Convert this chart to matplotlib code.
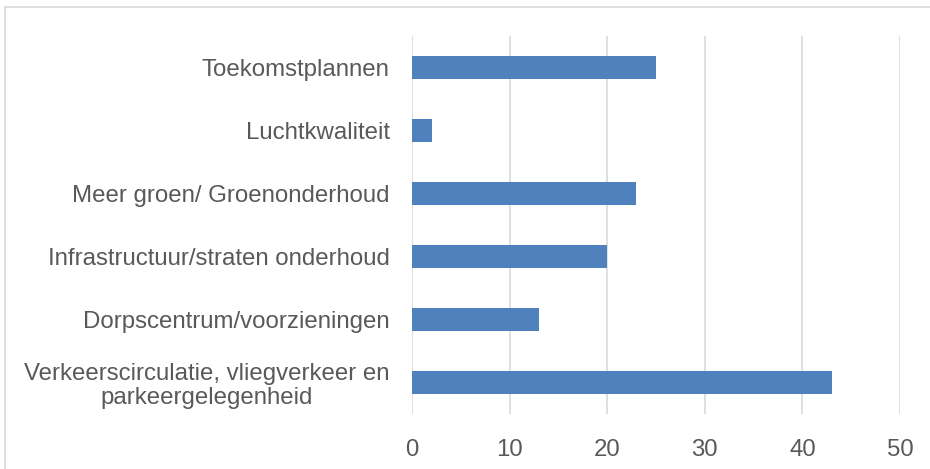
import matplotlib.pyplot as plt
from matplotlib.patches import Rectangle

plt.rcParams['font.family'] = ['Liberation Sans', 'DejaVu Sans']

categories = ['Verkeerscirculatie, vliegverkeer en\nparkeergelegenheid',
              'Dorpscentrum/voorzieningen',
              'Infrastructuur/straten onderhoud',
              'Meer groen/ Groenonderhoud',
              'Luchtkwaliteit',
              'Toekomstplannen']
values = [43, 13, 20, 23, 2, 25]
xticks = [0, 10, 20, 30, 40, 50]

fig = plt.figure(figsize=(9.3, 4.69), dpi=100)
ax = fig.add_axes([412 / 930, 1 - 414 / 469, 488 / 930, 378 / 469])

ax.barh(range(len(values)), values, height=0.36, color='#4F81BD', zorder=3)
ax.set_xlim(0, 50)
ax.set_ylim(-0.5, len(values) - 0.5)
ax.set_xticks(xticks)
ax.set_yticks(range(len(values)))
ax.set_yticklabels(categories, multialignment='center', linespacing=1.12)
ax.grid(axis='x', color='#D9D9D9', linewidth=1.2, zorder=0)
for s in ax.spines.values():
    s.set_visible(False)
ax.tick_params(axis='both', length=0, labelsize=17.3, colors='#595959')
ax.tick_params(axis='y', pad=16)
ax.tick_params(axis='x', pad=18)

# chart border
fig.patches.append(Rectangle((5 / 930, -0.1), 2, 1 - 7 / 469 + 0.1,
                             transform=fig.transFigure, fill=False,
                             edgecolor='#D9D9D9', linewidth=1.2))

fig.savefig('out.png', dpi=100)
